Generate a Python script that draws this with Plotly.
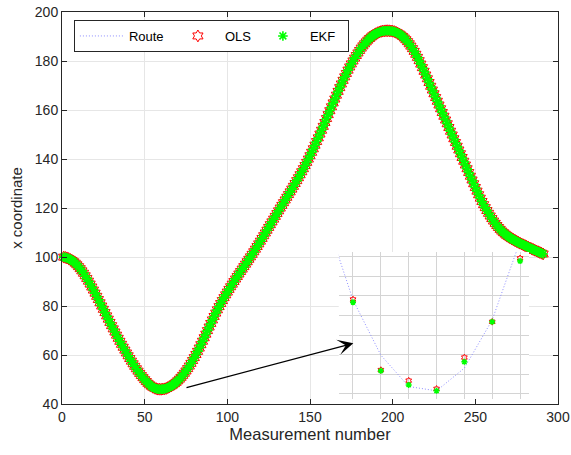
import plotly.graph_objects as go

# Reference route (x coordinate) for measurements 1..291
route_x = [
    99.95, 99.83, 99.64, 99.37, 99.02, 98.59, 98.08, 97.49, 96.82, 96.07,
    95.24, 94.34, 93.37, 92.34, 91.26, 90.13, 88.96, 87.75, 86.51, 85.24,
    83.95, 82.64, 81.32, 79.99, 78.65, 77.31, 75.97, 74.63, 73.30, 71.98,
    70.67, 69.37, 68.09, 66.83, 65.59, 64.37, 63.17, 61.99, 60.83, 59.69,
    58.57, 57.48, 56.42, 55.39, 54.39, 53.42, 52.49, 51.60, 50.75, 49.93,
    49.16, 48.45, 47.83, 47.28, 46.82, 46.454, 46.240, 46.099, 46.019, 46.008,
    46.066, 46.189, 46.390, 46.65, 46.97, 47.35, 47.79, 48.29, 48.85, 49.47,
    50.15, 50.89, 51.69, 52.55, 53.47, 54.45, 55.49, 56.59, 57.74, 58.94,
    60.19, 61.49, 62.83, 64.21, 65.62, 67.05, 68.50, 69.96, 71.42, 72.88,
    74.32, 75.73, 77.11, 78.45, 79.75, 81.01, 82.23, 83.41, 84.56, 85.68,
    86.78, 87.86, 88.92, 89.97, 91.01, 92.04, 93.06, 94.07, 95.07, 96.07,
    97.07, 98.07, 99.07, 100.07, 101.09, 102.13, 103.19, 104.27, 105.36, 106.46,
    107.57, 108.69, 109.81, 110.94, 112.07, 113.20, 114.33, 115.46, 116.59, 117.72,
    118.85, 119.98, 121.08, 122.18, 123.28, 124.38, 125.48, 126.58, 127.71, 128.85,
    130.00, 131.17, 132.36, 133.57, 134.79, 136.04, 137.32, 138.63, 139.97, 141.34,
    142.74, 144.17, 145.63, 147.12, 148.64, 150.18, 151.74, 153.32, 154.91, 156.51,
    158.11, 159.71, 161.31, 162.90, 164.48, 166.05, 167.60, 169.13, 170.63, 172.10,
    173.53, 174.92, 176.27, 177.57, 178.82, 180.02, 181.17, 182.26, 183.29, 184.31,
    185.27, 186.17, 187.01, 187.79, 188.51, 189.17, 189.77, 190.31, 190.79, 191.21,
    191.56, 191.84, 192.05, 192.20, 192.29, 192.34, 192.35, 192.33, 192.27, 192.16,
    191.99, 191.75, 191.44, 191.05, 190.58, 190.03, 189.40, 188.69, 187.90, 187.03,
    186.08, 185.05, 183.94, 182.75, 181.48, 180.14, 178.74, 177.29, 175.80, 174.28,
    172.75, 171.22, 169.69, 168.16, 166.63, 165.10, 163.57, 162.04, 160.51, 158.98,
    157.45, 155.92, 154.39, 152.86, 151.33, 149.80, 148.27, 146.74, 145.21, 143.68,
    142.15, 140.62, 139.09, 137.56, 136.03, 134.50, 132.97, 131.44, 129.91, 128.38,
    126.88, 125.42, 124.01, 122.66, 121.37, 120.15, 118.97, 117.83, 116.73, 115.68,
    114.68, 113.74, 112.86, 112.04, 111.28, 110.58, 109.94, 109.36, 108.83, 108.34,
    107.89, 107.47, 107.07, 106.69, 106.33, 105.98, 105.64, 105.31, 104.98, 104.66,
    104.34, 104.02, 103.70, 103.38, 103.07, 102.76, 102.45, 102.15, 101.85, 101.55,
    101.25,
]
measurement = list(range(1, len(route_x) + 1))

# Estimator outputs around the turning point (measurements 57..63);
# elsewhere both estimates sit on the route at this scale.
ols_window = {57: 46.241, 58: 46.061, 59: 46.034, 60: 46.013, 61: 46.093, 62: 46.184, 63: 46.346}
ekf_window = {57: 46.234, 58: 46.059, 59: 46.023, 60: 46.008, 61: 46.082, 62: 46.184, 63: 46.339}
ols_x = [ols_window.get(m, v) for m, v in zip(measurement, route_x)]
ekf_x = [ekf_window.get(m, v) for m, v in zip(measurement, route_x)]

x_ticks = [0, 50, 100, 150, 200, 250, 300]
y_ticks = [40, 60, 80, 100, 120, 140, 160, 180, 200]

FONT = "Liberation Sans, Arial, sans-serif"
AX = "#262626"
ROUTE_C = "#8c8cff"
OLS_C = "#ff0000"
EKF_C = "#00ff00"
DOTTED = "1px,2px"

# inset placement (paper fractions) and the zoomed window it shows
INSET_X = [0.5579, 0.9415]
INSET_Y = [0.0128, 0.3878]
INSET_XR = [56.487, 63.32]
INSET_YR = [45.9872, 46.3622]

fig = go.Figure()

fig.add_trace(go.Scatter(
    x=measurement, y=route_x, mode="lines", name="Route",
    line=dict(color=ROUTE_C, width=1, dash=DOTTED), legendwidth=37,
    cliponaxis=False))
fig.add_trace(go.Scatter(
    x=measurement, y=ols_x, mode="markers", name="OLS",
    marker=dict(symbol="hexagram-open", size=9, color=OLS_C,
                line=dict(color=OLS_C, width=1)),
    legendwidth=26, cliponaxis=False))
fig.add_trace(go.Scatter(
    x=measurement, y=ekf_x, mode="markers", name="EKF",
    marker=dict(symbol="asterisk-open", size=8, color=EKF_C,
                line=dict(color=EKF_C, width=1.6)),
    legendwidth=33, cliponaxis=False))

# zoomed view of the minimum
fig.add_trace(go.Scatter(
    x=measurement, y=route_x, mode="lines", xaxis="x2", yaxis="y2",
    line=dict(color=ROUTE_C, width=1, dash=DOTTED), showlegend=False))
fig.add_trace(go.Scatter(
    x=measurement, y=ols_x, mode="markers", xaxis="x2", yaxis="y2",
    marker=dict(symbol="hexagram-open", size=5, color=OLS_C,
                line=dict(color=OLS_C, width=1)), showlegend=False))
fig.add_trace(go.Scatter(
    x=measurement, y=ekf_x, mode="markers", xaxis="x2", yaxis="y2",
    marker=dict(symbol="asterisk-open", size=5, color=EKF_C,
                line=dict(color=EKF_C, width=1.5)), showlegend=False))

axis_common = dict(
    ticks="inside", ticklen=5, tickcolor=AX, showline=True, linecolor=AX,
    linewidth=1, mirror="ticks", showgrid=True, gridcolor="#e6e6e6",
    gridwidth=1, zeroline=False, automargin=False,
    tickfont=dict(family=FONT, size=14, color=AX),
)
inset_common = dict(
    showgrid=True, gridcolor="#d4d4d4", showticklabels=False, showline=False,
    ticks="", zeroline=False, automargin=False,
)

fig.update_layout(
    width=571, height=455,
    margin=dict(l=62, r=13, t=12, b=51),
    paper_bgcolor="white", plot_bgcolor="white",
    font=dict(family=FONT, color=AX),
    xaxis=dict(range=[0, 300], tickvals=x_ticks,
               title=dict(text="Measurement number", font=dict(size=16.5, color=AX), standoff=4),
               **axis_common),
    yaxis=dict(range=[40, 200], tickvals=y_ticks,
               title=dict(text="x coordinate", font=dict(size=15, color=AX), standoff=8),
               **axis_common),
    xaxis2=dict(domain=INSET_X, anchor="y2", range=INSET_XR, tick0=0, dtick=1, **inset_common),
    yaxis2=dict(domain=INSET_Y, anchor="x2", range=INSET_YR, tick0=46, dtick=0.05, **inset_common),
    legend=dict(orientation="h", x=0.024, y=0.9796, xanchor="left", yanchor="top",
                bgcolor="white", bordercolor=AX, borderwidth=1, itemwidth=44,
                font=dict(family=FONT, size=13, color="#000000")),
    annotations=[dict(x=176.2, y=64.8, xref="x", yref="y",
                      ax=74.4, ay=46.5, axref="x", ayref="y",
                      text="", showarrow=True, arrowhead=3, arrowsize=2,
                      arrowwidth=1.3, arrowcolor="#000000", standoff=0)],
)

fig.write_html("out.html")
